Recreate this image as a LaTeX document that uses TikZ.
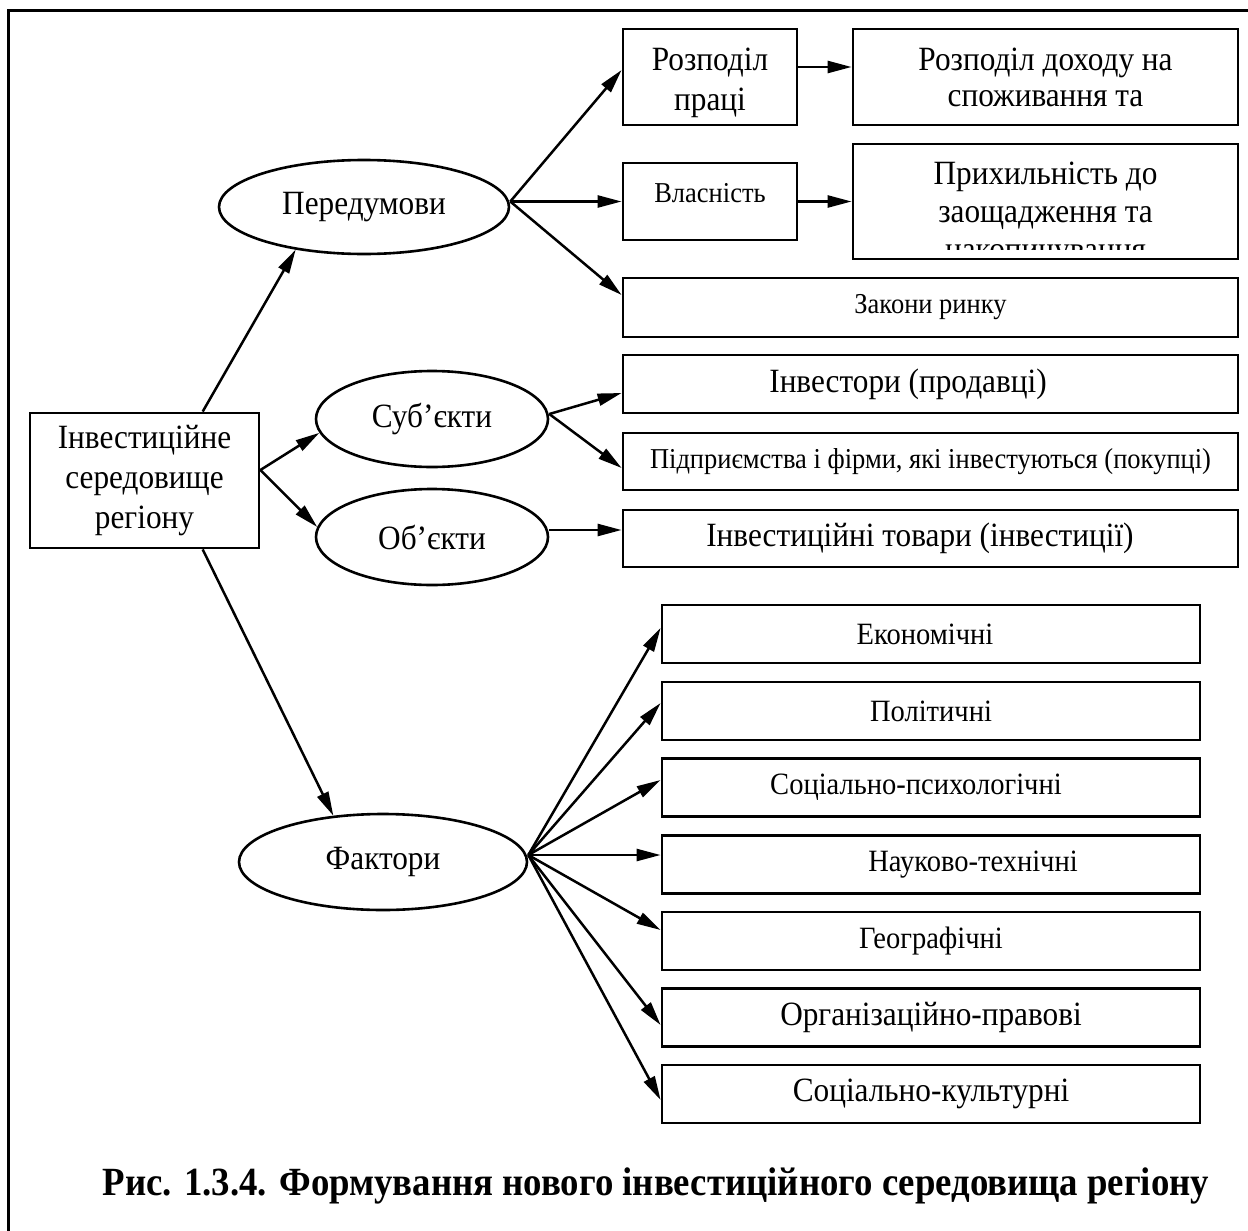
\documentclass[tikz,border=0pt]{standalone}
\usepackage{fontspec}
\setmainfont{Liberation Serif}[FakeStretch=0.92]
\usetikzlibrary{arrows.meta,shapes.geometric,calc}

\begin{document}
\begin{tikzpicture}[x=0.5pt,y=-0.5pt,
  box/.style={draw,line width=1.4pt,rectangle,inner sep=0pt},
  oval/.style={draw,line width=1.3pt,ellipse,inner sep=0pt},
  big/.style={font=\fontsize{17}{20}\selectfont,align=center},
  mid/.style={font=\fontsize{15.5}{18}\selectfont},
  small/.style={font=\fontsize{14.4}{17}\selectfont},
  arr/.style={line width=1.25pt,-{Triangle[length=12pt,width=6pt]}},
]
\useasboundingbox (0,0) rectangle (1248,1231);

% outer frame (top and left edges)
\draw[line width=1.5pt] (8,1231) -- (8,10) -- (1248,10);

% root
\node[box,big,minimum width=114.5pt,minimum height=67.5pt] (main) at (144.5,480.5)
  {Інвестиційне\\середовище\\регіону};

% second level
\node[oval,big,minimum width=145pt,minimum height=47pt] (pered) at (364,207) {Передумови};
\node[oval,big,minimum width=116pt,minimum height=48pt] (sub) at (432,419) {Суб’єкти};
\node[oval,big,minimum width=116pt,minimum height=48pt] (obj) at (432,537) {Об’єкти};
\node[oval,big,minimum width=144pt,minimum height=48pt] (fakt) at (383,862) {Фактори};

% preconditions
\node[box,minimum width=87pt,minimum height=48pt] (rp) at (710,77) {};
\node[big] (rp-t) at (710,83) {Розподіл\\праці};
\node[box,big,font=\fontsize{17}{18}\selectfont,minimum width=192.5pt,minimum height=48pt] (rd) at (1045.5,77)
  {Розподіл доходу на\\споживання та};
\node[box,minimum width=87pt,minimum height=38.5pt] (vl) at (710,201.5) {};
\node[small] (vl-t) at (710,193) {Власність};
\node[box,minimum width=192.5pt,minimum height=57.5pt] (px) at (1045.5,201.5) {};
\begin{scope}
  \clip (855,146) rectangle (1236,249);
  \node[big,font=\fontsize{17}{19}\selectfont] (px-t) at (1045.5,215)
    {Прихильність до\\заощадження та\\накопичування};
\end{scope}
\node[box,small,minimum width=307.5pt,minimum height=29.5pt] (zr) at (930.5,307.5) {Закони ринку};

% subjects and objects
\node[box,minimum width=307.5pt,minimum height=29pt] (inv) at (930.5,384) {};
\node[big] (inv-t) at (908,384) {Інвестори (продавці)};
\node[box,small,minimum width=307.5pt,minimum height=28.5pt] (pid) at (930.5,461.5)
  {Підприємства і фірми, які інвестуються (покупці)};
\node[box,minimum width=307.5pt,minimum height=28.5pt] (tov) at (930.5,538.5) {};
\node[big] (tov-t) at (920,538.5) {Інвестиційні товари (інвестиції)};

% factors
\node[box,minimum width=269pt,minimum height=29pt] (eco) at (931,634) {};
\node[mid] (eco-t) at (925,634) {Економічні};
\node[box,mid,minimum width=269pt,minimum height=29pt] (pol) at (931,711) {Політичні};
\node[box,minimum width=269pt,minimum height=29pt] (sp) at (931,787.5) {};
\node[mid] (sp-t) at (916,787.5) {Соціально-психологічні};
\node[box,minimum width=269pt,minimum height=29pt] (nt) at (931,864.5) {};
\node[mid] (nt-t) at (973,864.5) {Науково-технічні};
\node[box,mid,minimum width=269pt,minimum height=29pt] (geo) at (931,941) {Географічні};
\node[box,big,minimum width=269pt,minimum height=29pt] (org) at (931,1017.5) {Організаційно-правові};
\node[box,big,minimum width=269pt,minimum height=29pt] (sc) at (931,1094) {Соціально-культурні};

% caption
\node[font=\bfseries\fontsize{20}{24}\selectfont] (cap) at (656,1186)
  {Рис. 1.3.4. Формування нового інвестиційного середовища регіону};

% fan-out points
\coordinate (pc) at ([yshift=2.75pt]pered.east);
\coordinate (sc0) at ([yshift=2.5pt]sub.east);
\coordinate (fc) at ([yshift=3.5pt]fakt.east);
\coordinate (mr) at ([yshift=5.25pt]main.east);

% root connectors
\draw[arr] ($(main.north west)!0.751!(main.north east)$) -- (pered.212);
\draw[arr] (mr) -- (sub.187);
\draw[arr] (mr) -- (obj.175);
\draw[arr] ($(main.south west)!0.751!(main.south east)$) -- (fakt.137);

% preconditions connectors
\draw[arr] (pc) -- ([yshift=3.5pt]rp.west);
\draw[arr] (pc) -- (vl.west);
\draw[arr] (pc) -- ([yshift=6.25pt]zr.west);
\draw[arr] ([yshift=5pt]rp.east) -- ([yshift=5pt]rd.west);
\draw[arr] (vl.east) -- (px.west);

% subjects / objects connectors
\draw[arr] (sc0) -- ([yshift=-4.5pt]inv.west);
\draw[arr] (sc0) -- ([yshift=-3.25pt]pid.west);
\draw[arr] ([yshift=3.5pt]obj.east) -- ([yshift=4.25pt]tov.west);

% factor connectors
\draw[arr] (fc) -- ([yshift=3pt]eco.west);
\draw[arr] (fc) -- ([yshift=4pt]pol.west);
\draw[arr] (fc) -- ([yshift=3.75pt]sp.west);
\draw[arr] (fc) -- ([yshift=4.75pt]nt.west);
\draw[arr] (fc) -- ([yshift=5.5pt]geo.west);
\draw[arr] (fc) -- ([yshift=-3.75pt]org.west);
\draw[arr] (fc) -- ([yshift=-3pt]sc.west);
\end{tikzpicture}
\end{document}
